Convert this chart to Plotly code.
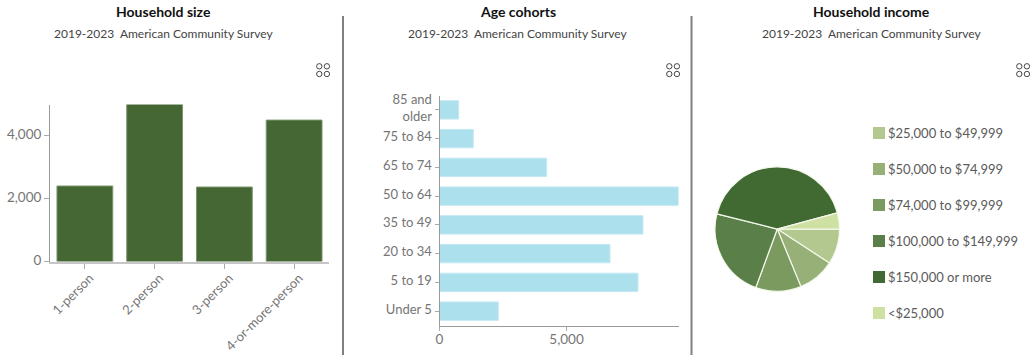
import plotly.graph_objects as go

W, H = 1036, 358

size_labels = ["1-person", "2-person", "3-person", "4-or-more-person"]
size_values = [2397, 4985, 2365, 4490]

age_labels = ["Under 5", "5 to 19", "20 to 34", "35 to 49", "50 to 64", "65 to 74", "75 to 84", "85 and<br>older"]
age_values = [2315, 7815, 6712, 8010, 9409, 4220, 1331, 756]

income_labels = ["$25,000 to $49,999", "$50,000 to $74,999", "$74,000 to $99,999",
                 "$100,000 to $149,999", "$150,000 or more", "<$25,000"]
income_values = [9.2, 9.6, 11.8, 23.3, 41.9, 4.2]
income_colors = ["#b2c88e", "#96b077", "#7a9a5f", "#5b7f49", "#416a33", "#cfe0a3"]

titles = ["Household size", "Age cohorts", "Household income"]
subtitle = "2019-2023\u00a0 American Community Survey"
title_centers = [163.5, 517.5, 871.5]

FONT = "Lato"
GREY = "#757575"


def xd(a, b):
    return [a / W, b / W]


def yd(top, bottom):
    return [1 - bottom / H, 1 - top / H]


fig = go.Figure()

fig.add_trace(go.Bar(x=size_labels, y=size_values, xaxis="x", yaxis="y",
                     marker=dict(color="#446733", line=dict(color="#7d9570", width=1))))
fig.add_trace(go.Bar(y=age_labels, x=age_values, orientation="h", xaxis="x2", yaxis="y2", width=0.64,
                     marker=dict(color="#ade0ed", line=dict(color="#c4e9f2", width=1))))
fig.add_trace(go.Pie(labels=income_labels, values=income_values, sort=False, direction="clockwise",
                     rotation=90, textinfo="none", showlegend=False,
                     marker=dict(colors=income_colors, line=dict(color="#f4f8ea", width=1.2)),
                     domain=dict(x=xd(715, 839.5), y=yd(166.8, 291.3))))
# legend as category-axis columns, which give the wide even spacing of the original
fig.add_trace(go.Scatter(x=[0] * len(income_labels), y=income_labels, xaxis="x3", yaxis="y3",
                         mode="markers", marker=dict(symbol="square", size=12, color=income_colors),
                         cliponaxis=False, hoverinfo="skip"))
fig.add_trace(go.Scatter(x=[0] * len(income_labels), y=income_labels, xaxis="x4", yaxis="y4",
                         mode="text", text=[t.replace("<", "&lt;") for t in income_labels],
                         textposition="middle right",
                         textfont=dict(family=FONT, size=13, color="#5a5a5a"),
                         cliponaxis=False, hoverinfo="skip"))

line = "#9a9a9a"
fig.update_layout(
    width=W, height=H, autosize=False, margin=dict(l=0, r=0, t=0, b=0),
    paper_bgcolor="white", plot_bgcolor="white", showlegend=False, bargap=0.2,
    font=dict(family=FONT, size=13, color=GREY),
    xaxis=dict(domain=xd(50, 329), type="category", tickangle=-45, ticks="outside", ticklen=5,
               tickcolor="#aaaaaa", showline=True, linecolor="#c6c6c6", linewidth=2, showgrid=False,
               tickfont=dict(size=13, color=GREY), anchor="y", automargin=False, ticklabelshift=5,
               ticklabelstandoff=-3),
    yaxis=dict(domain=yd(104.5, 261.5), range=[0, 4985], tickvals=[0, 2000, 4000], tickformat=",d",
               ticks="outside", ticklen=5, tickcolor="#aaaaaa", showline=True, linecolor=line, linewidth=1,
               showgrid=False, zeroline=False, tickfont=dict(size=13.5, color=GREY), anchor="x",
               automargin=False, ticklabelshift=-1),
    xaxis2=dict(domain=xd(439.5, 678.5), range=[0, 9409], tickvals=[0, 5000], tickformat=",d",
                ticks="outside", ticklen=4, tickcolor="#aaaaaa", showline=True, linecolor=line, linewidth=1,
                showgrid=False, zeroline=False, tickfont=dict(size=13.5, color=GREY), anchor="y2",
                automargin=False, ticklabelstandoff=-3),
    yaxis2=dict(domain=yd(95.5, 325.5), type="category", categoryorder="array", categoryarray=age_labels,
                ticks="outside", ticklen=4, tickcolor="#aaaaaa",
                showline=True, linecolor=line, linewidth=1, showgrid=False,
                tickfont=dict(size=13, color=GREY), anchor="x2", automargin=False, ticklabelshift=-2),
    xaxis3=dict(domain=xd(879, 1030), range=[0, 1], visible=False, anchor="y3", automargin=False),
    yaxis3=dict(domain=yd(115, 331), type="category", categoryorder="array",
                categoryarray=income_labels, range=[5.5, -0.5], visible=False, anchor="x3", automargin=False),
    xaxis4=dict(domain=xd(888, 1030), range=[0, 1], visible=False, anchor="y4", automargin=False),
    yaxis4=dict(domain=yd(116.5, 332.5), type="category", categoryorder="array",
                categoryarray=income_labels, range=[5.5, -0.5], visible=False, anchor="x4", automargin=False),
)

for t, cx in zip(titles, title_centers):
    fig.add_annotation(text="<b>" + t + "</b>", x=cx / W, y=1 - 11.5 / H, xref="paper", yref="paper",
                       showarrow=False, xanchor="center", yanchor="middle",
                       font=dict(family=FONT, size=14, color="#111111"))
    fig.add_annotation(text=subtitle, x=cx / W, y=1 - 33 / H, xref="paper", yref="paper",
                       showarrow=False, xanchor="center", yanchor="middle",
                       font=dict(family=FONT, size=12, color="#444444"))

# panel dividers
for px in [343, 691.5]:
    fig.add_shape(type="line", xref="paper", yref="paper", x0=px / W, x1=px / W, y0=1 - 16 / H, y1=1 - 355 / H,
                  line=dict(color="#808080", width=2))

# four-circle widget icons
for ox in [319.3, 669.3, 1019.3]:
    for dx in [0, 7.6]:
        for cy in [66.3, 74]:
            fig.add_shape(type="circle", xref="paper", yref="paper",
                          x0=(ox + dx - 2.7) / W, x1=(ox + dx + 2.7) / W,
                          y0=1 - (cy + 2.7) / H, y1=1 - (cy - 2.7) / H,
                          line=dict(color="#333333", width=0.9), fillcolor="rgba(0,0,0,0)")

fig.write_html("out.html", config=dict(displayModeBar=False),
               post_script="document.body.style.margin='0';document.body.style.overflow='hidden';")
